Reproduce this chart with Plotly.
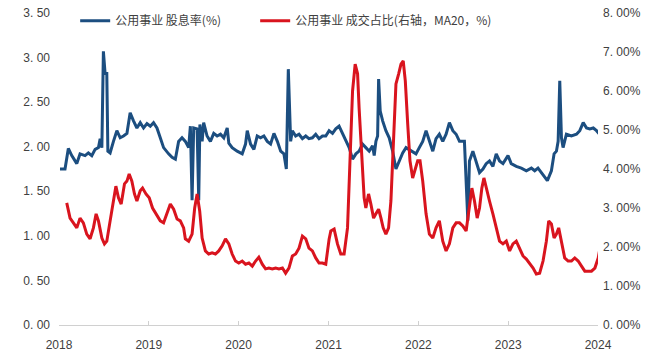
import numpy as np
import pandas as pd
import plotly.graph_objects as go

# Years elapsed since 2018-01-01 and values
blue_t = [0.011, 0.067, 0.104, 0.142, 0.198, 0.234, 0.290, 0.327, 0.365, 0.402, 0.439, 0.458, 0.477,
          0.494, 0.513, 0.532, 0.544, 0.569, 0.606, 0.644, 0.681, 0.718, 0.756, 0.792, 0.829, 0.867,
          0.904, 0.941, 0.979, 1.016, 1.052, 1.090, 1.127, 1.164, 1.220, 1.258, 1.295, 1.331, 1.369,
          1.406, 1.443, 1.462, 1.481, 1.499, 1.537, 1.555, 1.568, 1.593, 1.610, 1.648, 1.685, 1.722,
          1.760, 1.797, 1.834, 1.872, 1.890, 1.927, 1.983, 2.039, 2.076, 2.095, 2.132, 2.169, 2.206,
          2.243, 2.280, 2.318, 2.355, 2.392, 2.430, 2.467, 2.503, 2.530, 2.552, 2.578, 2.597, 2.634,
          2.671, 2.709, 2.746, 2.782, 2.820, 2.857, 2.894, 2.932, 2.969, 3.006, 3.044, 3.080, 3.117,
          3.155, 3.192, 3.229, 3.267, 3.304, 3.340, 3.378, 3.415, 3.452, 3.490, 3.508, 3.527, 3.546,
          3.557, 3.575, 3.602, 3.638, 3.675, 3.713, 3.750, 3.787, 3.825, 3.862, 3.898, 3.936, 3.973,
          4.010, 4.048, 4.085, 4.122, 4.160, 4.196, 4.233, 4.271, 4.308, 4.345, 4.383, 4.420, 4.457,
          4.494, 4.512, 4.550, 4.568, 4.606, 4.643, 4.680, 4.718, 4.754, 4.791, 4.829, 4.866, 4.903,
          4.941, 4.997, 5.033, 5.089, 5.145, 5.201, 5.257, 5.294, 5.331, 5.387, 5.435, 5.480, 5.510,
          5.536, 5.555, 5.573, 5.592, 5.610, 5.647, 5.703, 5.759, 5.796, 5.834, 5.871, 5.907, 5.946,
          5.982, 6.015]
blue_v = [1.75, 1.75, 1.98, 1.90, 1.81, 1.92, 1.90, 1.93, 1.90, 1.97, 1.99, 2.09, 1.99,
          3.07, 2.82, 2.82, 1.95, 1.93, 2.06, 2.18, 2.10, 2.12, 2.15, 2.38, 2.29, 2.21,
          2.27, 2.21, 2.26, 2.23, 2.27, 2.21, 2.10, 1.99, 1.92, 1.88, 1.86, 2.06, 2.10,
          2.06, 1.99, 2.23, 1.40, 2.21, 2.20, 1.40, 2.25, 2.06, 2.27, 2.12, 2.06, 2.15,
          2.12, 2.14, 2.10, 2.21, 2.04, 1.99, 1.95, 1.92, 2.03, 2.18, 2.03, 1.97, 2.12,
          2.10, 2.12, 2.06, 2.03, 2.15, 2.06, 1.95, 1.92, 1.75, 2.87, 2.06, 2.18, 2.12,
          2.14, 2.09, 2.12, 2.09, 2.10, 2.14, 2.09, 2.12, 2.12, 2.18, 2.15, 2.20, 2.23,
          2.15, 2.06, 1.99, 1.86, 1.92, 1.95, 2.03, 1.99, 1.95, 2.01, 1.90, 2.06, 2.12,
          2.76, 2.40, 2.29, 2.18, 2.10, 1.95, 1.75, 1.84, 1.93, 1.99, 1.97, 1.95, 1.92,
          1.99, 2.06, 2.18, 2.06, 1.95, 2.09, 2.14, 2.06, 2.14, 2.27, 2.18, 2.14, 2.06,
          2.06, 2.06, 1.17, 1.84, 1.95, 1.84, 1.71, 1.75, 1.81, 1.84, 1.78, 1.92, 1.84,
          1.81, 1.90, 1.81, 1.78, 1.76, 1.73, 1.76, 1.73, 1.76, 1.69, 1.62, 1.73, 1.92,
          1.95, 2.06, 2.74, 2.10, 1.99, 2.14, 2.12, 2.14, 2.18, 2.27, 2.21, 2.20, 2.21,
          2.18, 2.14]

red_t = [0.086, 0.123, 0.160, 0.198, 0.234, 0.271, 0.309, 0.346, 0.383, 0.413, 0.439, 0.477, 0.506,
         0.532, 0.569, 0.606, 0.633, 0.662, 0.692, 0.729, 0.756, 0.781, 0.811, 0.840, 0.867, 0.904,
         0.930, 0.968, 1.004, 1.041, 1.079, 1.127, 1.164, 1.202, 1.239, 1.276, 1.314, 1.350, 1.387,
         1.406, 1.443, 1.481, 1.510, 1.537, 1.566, 1.593, 1.629, 1.666, 1.704, 1.741, 1.778, 1.816,
         1.853, 1.890, 1.927, 1.964, 2.001, 2.039, 2.076, 2.113, 2.151, 2.188, 2.224, 2.262, 2.299,
         2.336, 2.374, 2.411, 2.448, 2.486, 2.522, 2.559, 2.597, 2.634, 2.671, 2.709, 2.746, 2.782,
         2.820, 2.857, 2.894, 2.932, 2.969, 3.006, 3.025, 3.062, 3.099, 3.136, 3.173, 3.211, 3.237,
         3.267, 3.296, 3.323, 3.340, 3.371, 3.396, 3.415, 3.445, 3.471, 3.501, 3.527, 3.557, 3.583,
         3.608, 3.638, 3.668, 3.694, 3.724, 3.750, 3.780, 3.806, 3.831, 3.854, 3.881, 3.906, 3.936,
         3.965, 3.992, 4.018, 4.048, 4.085, 4.122, 4.160, 4.196, 4.233, 4.271, 4.308, 4.345, 4.383,
         4.420, 4.457, 4.494, 4.531, 4.568, 4.595, 4.624, 4.654, 4.680, 4.706, 4.729, 4.754, 4.791,
         4.829, 4.866, 4.903, 4.941, 4.978, 5.015, 5.052, 5.089, 5.126, 5.164, 5.201, 5.238, 5.276,
         5.312, 5.349, 5.387, 5.424, 5.450, 5.480, 5.510, 5.536, 5.561, 5.592, 5.628, 5.666, 5.703,
         5.740, 5.778, 5.815, 5.852, 5.890, 5.926, 5.964, 6.001, 6.015]
red_v = [3.13, 2.74, 2.62, 2.49, 2.74, 2.62, 2.33, 2.21, 2.49, 2.85, 2.67, 2.23, 2.08,
         2.15, 2.67, 3.18, 3.56, 3.26, 3.10, 3.62, 3.69, 3.87, 3.69, 3.36, 3.18, 3.44,
         3.51, 3.36, 3.26, 3.00, 2.85, 2.67, 2.62, 2.85, 3.10, 2.97, 2.72, 2.67, 2.49,
         2.21, 2.15, 2.33, 3.00, 3.36, 2.92, 2.23, 1.90, 1.82, 1.85, 1.82, 1.90, 2.03,
         2.21, 2.08, 1.82, 1.64, 1.59, 1.64, 1.56, 1.59, 1.51, 1.64, 1.74, 1.56, 1.44,
         1.46, 1.44, 1.46, 1.44, 1.46, 1.33, 1.46, 1.77, 1.82, 1.97, 2.28, 2.21, 1.97,
         1.90, 1.72, 1.59, 1.59, 1.56, 2.20, 2.41, 2.46, 2.08, 1.82, 1.82, 2.49, 4.28,
         6.00, 6.69, 6.44, 5.56, 4.28, 3.26, 3.00, 3.36, 3.10, 2.74, 2.85, 2.97, 2.74,
         2.49, 2.33, 2.49, 3.18, 4.72, 6.18, 6.44, 6.69, 6.77, 6.26, 5.15, 4.21, 3.77,
         4.03, 4.21, 4.21, 3.69, 2.85, 2.33, 2.23, 2.49, 2.67, 2.15, 1.90, 2.08, 2.49,
         2.62, 2.62, 2.54, 2.41, 3.10, 3.51, 3.18, 2.74, 3.00, 3.51, 3.77, 3.51, 3.18,
         2.85, 2.49, 2.15, 2.08, 2.15, 1.90, 2.08, 2.15, 1.97, 1.77, 1.69, 1.59, 1.46,
         1.31, 1.33, 1.64, 2.15, 2.67, 2.59, 2.23, 2.33, 2.49, 2.15, 1.72, 1.64, 1.64,
         1.72, 1.64, 1.51, 1.38, 1.38, 1.38, 1.46, 1.72, 1.90]

left_ticks = [0, 0.5, 1.0, 1.5, 2.0, 2.5, 3.0, 3.5]
left_labels = ["0. 00", "0. 50", "1. 00", "1. 50", "2. 00", "2. 50", "3. 00", "3. 50"]
right_ticks = [0, 1, 2, 3, 4, 5, 6, 7, 8]
right_labels = ["0. 00%", "1. 00%", "2. 00%", "3. 00%", "4. 00%", "5. 00%", "6. 00%", "7. 00%", "8. 00%"]
year_ticks = ["2018-01-01", "2019-01-01", "2020-01-01", "2021-01-01", "2022-01-01", "2023-01-01", "2024-01-01"]
year_labels = ["2018", "2019", "2020", "2021", "2022", "2023", "2024"]

base = pd.Timestamp("2018-01-01")
blue_x = base + pd.to_timedelta(np.array(blue_t) * 365.25, unit="D")
red_x = base + pd.to_timedelta(np.array(red_t) * 365.25, unit="D")

BLUE = "#1C4E80"
RED = "#D9141E"

fig = go.Figure()
fig.add_trace(go.Scatter(x=blue_x, y=blue_v, mode="lines", name="公用事业 股息率(%)",
                         line=dict(color=BLUE, width=3), yaxis="y", legendwidth=135))
fig.add_trace(go.Scatter(x=red_x, y=red_v, mode="lines", name="公用事业 成交占比(右轴，MA20，%)",
                         line=dict(color=RED, width=3), yaxis="y2"))

tickfont = dict(family="Liberation Sans, Arial, sans-serif", size=12, color="#404040")
fig.update_layout(
    width=655, height=353,
    margin=dict(l=59, r=57, t=13, b=28, autoexpand=False),
    paper_bgcolor="white", plot_bgcolor="white",
    showlegend=True,
    legend=dict(orientation="h", x=0.03, y=0.975, xanchor="left", yanchor="middle",
                font=dict(family="Noto Sans CJK SC", size=12, color="#404040"),
                bgcolor="rgba(0,0,0,0)", itemwidth=30, tracegroupgap=0),
    xaxis=dict(type="date", range=["2018-01-01", "2024-01-01"],
               tickvals=year_ticks, ticktext=year_labels, tickfont=tickfont,
               showgrid=False, showline=True, linecolor="#d0d0d0", linewidth=1,
               ticks="inside", ticklen=4, tickcolor="#d0d0d0", zeroline=False,
               ticklabelstandoff=9, automargin=False),
    yaxis=dict(range=[0, 3.5], tickvals=left_ticks, ticktext=left_labels, tickfont=tickfont,
               showgrid=False, showline=False, zeroline=False, ticks="", ticklabelstandoff=8,
               automargin=False),
    yaxis2=dict(range=[0, 8], tickvals=right_ticks, ticktext=right_labels, tickfont=tickfont,
                overlaying="y", side="right", showgrid=False, showline=False, zeroline=False,
                ticks="", ticklabelstandoff=4, automargin=False),
)

fig.write_html("out.html")
